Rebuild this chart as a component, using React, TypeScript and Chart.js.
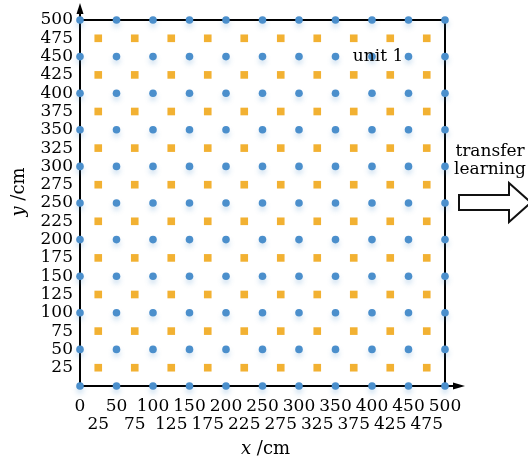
import React, { useEffect, useRef } from "react";
import { Chart, registerables } from "chart.js";

Chart.register(...registerables);

// Grid positions (cm)
const blueX = [0, 50, 100, 150, 200, 250, 300, 350, 400, 450, 500];
const blueY = [0, 50, 100, 150, 200, 250, 300, 350, 400, 450, 500];
const orangeX = [25, 75, 125, 175, 225, 275, 325, 375, 425, 475];
const orangeY = [25, 75, 125, 175, 225, 275, 325, 375, 425, 475];

// Tick labels
const xTickValues = [0, 25, 50, 75, 100, 125, 150, 175, 200, 225, 250, 275, 300, 325, 350, 375, 400, 425, 450, 475, 500];
const xTopRow = [0, 50, 100, 150, 200, 250, 300, 350, 400, 450, 500];
const yTickValues = [25, 50, 75, 100, 125, 150, 175, 200, 225, 250, 275, 300, 325, 350, 375, 400, 425, 450, 475, 500];

const BLUE = "#4b8fcc";
const ORANGE = "#f2b132";
const FONT = "'DejaVu Serif', serif";

const bluePoints = blueY.flatMap((y) => blueX.map((x) => ({ x, y })));
const orangePoints = orangeY.flatMap((y) => orangeX.map((x) => ({ x, y })));

const decorPlugin = {
  id: "decor",
  beforeDatasetsDraw(chart: any) {
    const { ctx, chartArea } = chart;
    const { left, right, top, bottom } = chartArea;
    ctx.save();
    ctx.strokeStyle = "#000";
    ctx.fillStyle = "#000";
    ctx.lineWidth = 2;
    ctx.beginPath();
    ctx.moveTo(left, top);
    ctx.lineTo(right, top);
    ctx.lineTo(right, bottom);
    ctx.stroke();
    ctx.beginPath();
    ctx.moveTo(left, top);
    ctx.lineTo(left, top - 8);
    ctx.stroke();
    ctx.beginPath();
    ctx.moveTo(left, top - 17);
    ctx.lineTo(left - 3.5, top - 6);
    ctx.lineTo(left + 3.5, top - 6);
    ctx.closePath();
    ctx.fill();
    ctx.beginPath();
    ctx.moveTo(right, bottom);
    ctx.lineTo(right + 10, bottom);
    ctx.stroke();
    ctx.beginPath();
    ctx.moveTo(right + 20, bottom);
    ctx.lineTo(right + 8, bottom - 3.5);
    ctx.lineTo(right + 8, bottom + 3.5);
    ctx.closePath();
    ctx.fill();
    ctx.restore();
  },
  beforeDatasetDraw(chart: any, args: any) {
    if (args.index === 0) {
      const ctx = chart.ctx;
      ctx.save();
      ctx.shadowColor = "rgba(75,143,204,0.25)";
      ctx.shadowBlur = 5;
      ctx.shadowOffsetY = 4;
    }
  },
  afterDatasetDraw(chart: any, args: any) {
    if (args.index === 0) chart.ctx.restore();
  },
  afterDraw(chart: any) {
    const { ctx, chartArea } = chart;
    ctx.save();
    ctx.fillStyle = "#000";
    ctx.textBaseline = "middle";
    ctx.font = `17px ${FONT}`;
    ctx.textAlign = "center";
    ctx.fillText("unit 1", 378, 57);
    ctx.font = `17px ${FONT}`;
    ctx.fillText("transfer", 490, 152);
    ctx.fillText("learning", 490, 170);
    ctx.beginPath();
    ctx.moveTo(459, 195);
    ctx.lineTo(509, 195);
    ctx.lineTo(509, 183);
    ctx.lineTo(531, 202.5);
    ctx.lineTo(509, 222);
    ctx.lineTo(509, 210);
    ctx.lineTo(459, 210);
    ctx.closePath();
    ctx.fillStyle = "#fff";
    ctx.fill();
    ctx.lineWidth = 2;
    ctx.strokeStyle = "#111";
    ctx.stroke();
    ctx.fillStyle = "#000";

    const cx = (chartArea.left + chartArea.right) / 2;
    const italic = `italic 18px ${FONT}`;
    const normal = `18px ${FONT}`;
    ctx.font = italic;
    const w1 = ctx.measureText("x").width;
    ctx.font = normal;
    const w2 = ctx.measureText(" /cm").width;
    let sx = cx + 3 - (w1 + w2) / 2;
    ctx.textAlign = "left";
    ctx.font = italic;
    ctx.fillText("x", sx, 449);
    ctx.font = normal;
    ctx.fillText(" /cm", sx + w1, 449);

    ctx.translate(19, 192);
    ctx.rotate(-Math.PI / 2);
    ctx.font = italic;
    const h1 = ctx.measureText("y").width;
    ctx.font = normal;
    const h2 = ctx.measureText(" /cm").width;
    sx = -(h1 + h2) / 2;
    ctx.font = italic;
    ctx.fillText("y", sx, 0);
    ctx.font = normal;
    ctx.fillText(" /cm", sx + h1, 0);
    ctx.restore();
  },
};

export default function App() {
  const ref = useRef<HTMLCanvasElement>(null);
  useEffect(() => {
    const chart = new Chart(ref.current as HTMLCanvasElement, {
      type: "scatter",
      data: {
        datasets: [
          {
            data: bluePoints,
            backgroundColor: BLUE,
            borderColor: BLUE,
            borderWidth: 0,
            pointRadius: 3.8,
            pointStyle: "circle",
            clip: false as any,
          },
          {
            data: orangePoints,
            backgroundColor: ORANGE,
            borderColor: ORANGE,
            borderWidth: 0,
            pointRadius: 5.4,
            pointStyle: "rect",
            clip: false as any,
          },
        ],
      },
      options: {
        animation: false,
        responsive: false,
        events: [],
        layout: { padding: { left: 0, top: 20, right: 83, bottom: 0 } },
        plugins: { legend: { display: false }, tooltip: { enabled: false } },
        scales: {
          x: {
            type: "linear",
            min: 0,
            max: 500,
            grid: { display: false, drawTicks: false },
            border: { display: true, color: "#000", width: 2 },
            afterBuildTicks: (s: any) => {
              s.ticks = xTickValues.map((v) => ({ value: v }));
            },
            afterFit: (s: any) => {
              s.height = 76;
            },
            ticks: {
              autoSkip: false,
              maxRotation: 0,
              minRotation: 0,
              padding: 11,
              color: "#000",
              font: { family: FONT, size: 17, lineHeight: 1.09 },
              callback: (v: any) =>
                xTopRow.includes(Number(v)) ? [String(v), ""] : ["", String(v)],
            },
          },
          y: {
            type: "linear",
            min: 0,
            max: 500,
            grid: { display: false, drawTicks: false },
            border: { display: true, color: "#000", width: 2 },
            afterBuildTicks: (s: any) => {
              s.ticks = yTickValues.map((v) => ({ value: v }));
            },
            afterFit: (s: any) => {
              s.width = 80;
            },
            ticks: {
              autoSkip: false,
              padding: 7,
              color: "#000",
              font: { family: FONT, size: 17, lineHeight: 1 },
            },
          },
        },
      },
      plugins: [decorPlugin],
    } as any);
    return () => chart.destroy();
  }, []);
  return (
    <div style={{ position: "absolute", left: 0, top: 0, width: 528, height: 462, background: "#fff" }}>
      <canvas ref={ref} width={528} height={462} />
    </div>
  );
}
